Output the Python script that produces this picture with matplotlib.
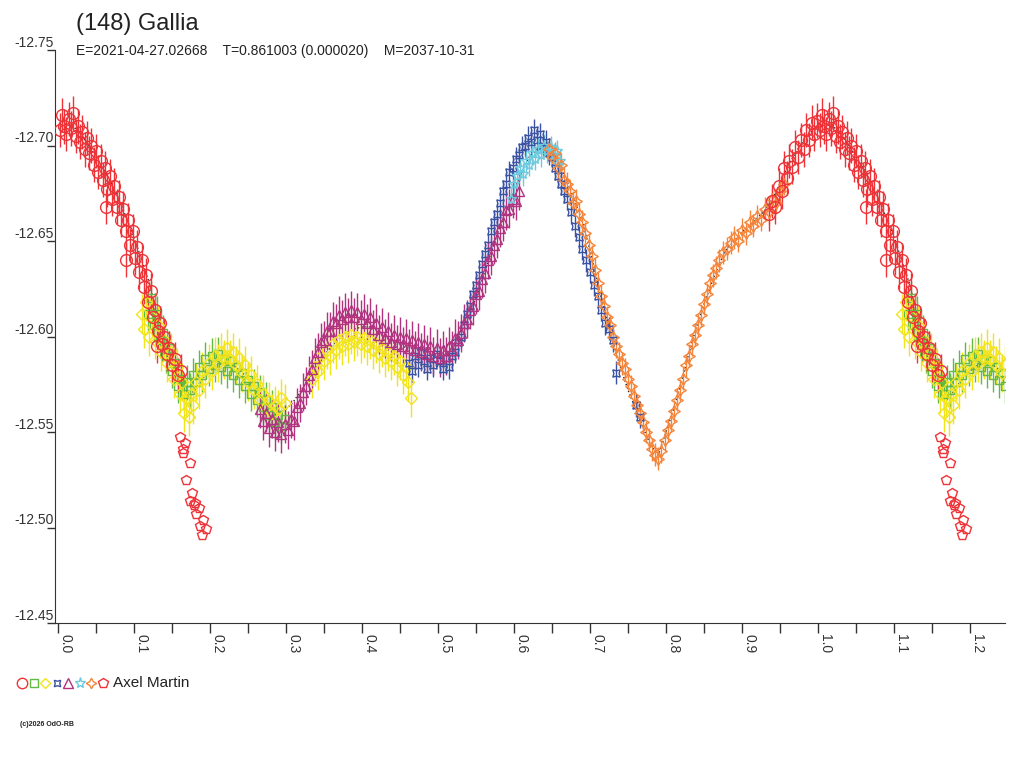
import numpy as np
import matplotlib
matplotlib.use("Agg")
import matplotlib.pyplot as plt
from matplotlib.lines import Line2D

plt.rcParams['font.family'] = ['Liberation Sans', 'DejaVu Sans']
plt.rcParams['axes.unicode_minus'] = False

# ---- datos (fase, magnitud) por sesion ----
# sesion 1 - circulos rojos
ph1 = [0.936, 0.940, 0.944, 0.948, 0.952, 0.955, 0.959, 0.962, 0.966, 0.970, 0.973, 0.977,
       0.981, 0.984, 0.988, 0.992, 0.995, 0.998, 0.002, 0.005, 0.008, 0.011, 0.014, 0.017,
       0.020, 0.023, 0.026, 0.029, 0.032, 0.035, 0.038, 0.041, 0.044, 0.047, 0.050, 0.053,
       0.056, 0.059, 0.062, 0.065, 0.068, 0.071, 0.074, 0.077, 0.080, 0.083, 0.086, 0.089,
       0.092, 0.095, 0.098, 0.101, 0.104, 0.107, 0.110, 0.113, 0.116, 0.119, 0.122, 0.125,
       0.128, 0.131, 0.134, 0.137, 0.140, 0.143, 0.146, 0.150, 0.154, 0.158, 0.162, 0.063,
       0.090, 0.130]
mag1 = [-12.664, -12.671, -12.668, -12.679, -12.676, -12.688, -12.683, -12.692, -12.689, -12.699,
        -12.694, -12.703, -12.698, -12.708, -12.703, -12.712, -12.706, -12.713, -12.708, -12.716,
        -12.710, -12.706, -12.714, -12.709, -12.717, -12.705, -12.710, -12.702, -12.707, -12.698,
        -12.704, -12.696, -12.700, -12.690, -12.697, -12.686, -12.692, -12.682, -12.688, -12.677,
        -12.684, -12.672, -12.679, -12.668, -12.673, -12.661, -12.667, -12.655, -12.661, -12.648,
        -12.655, -12.641, -12.647, -12.634, -12.640, -12.626, -12.632, -12.618, -12.624, -12.610,
        -12.614, -12.603, -12.607, -12.596, -12.600, -12.591, -12.594, -12.585, -12.588, -12.580,
        -12.582, -12.668, -12.640, -12.595]

# sesion 2 - cuadrados verdes
ph2 = [0.118, 0.122, 0.126, 0.130, 0.134, 0.138, 0.142, 0.146, 0.150, 0.154, 0.158, 0.162,
       0.166, 0.170, 0.174, 0.178, 0.182, 0.186, 0.190, 0.194, 0.198, 0.202, 0.206, 0.210,
       0.214, 0.218, 0.222, 0.226, 0.230, 0.234, 0.238, 0.242, 0.246, 0.250, 0.254, 0.258,
       0.262, 0.266, 0.270, 0.274, 0.278, 0.282, 0.286, 0.290, 0.294, 0.298]
mag2 = [-12.612, -12.620, -12.606, -12.612, -12.598, -12.602, -12.590, -12.594, -12.582, -12.586,
        -12.574, -12.578, -12.570, -12.576, -12.572, -12.580, -12.576, -12.584, -12.580, -12.588,
        -12.583, -12.590, -12.585, -12.591, -12.584, -12.588, -12.582, -12.587, -12.580, -12.584,
        -12.577, -12.581, -12.574, -12.577, -12.570, -12.574, -12.567, -12.571, -12.563, -12.567,
        -12.559, -12.563, -12.555, -12.559, -12.553, -12.557]

# sesion 3 - rombos amarillos
ph3 = [0.110, 0.113, 0.116, 0.120, 0.124, 0.128, 0.132, 0.136, 0.140, 0.144, 0.148, 0.152,
       0.156, 0.160, 0.163, 0.166, 0.169, 0.172, 0.175, 0.178, 0.182, 0.186, 0.190, 0.194,
       0.198, 0.202, 0.206, 0.210, 0.214, 0.218, 0.222, 0.226, 0.230, 0.234, 0.238, 0.242,
       0.246, 0.250, 0.254, 0.258, 0.262, 0.266, 0.270, 0.274, 0.278, 0.282, 0.286, 0.290,
       0.294, 0.298, 0.334, 0.338, 0.342, 0.346, 0.350, 0.354, 0.358, 0.362, 0.366, 0.370,
       0.374, 0.378, 0.382, 0.386, 0.390, 0.394, 0.398, 0.402, 0.406, 0.410, 0.414, 0.418,
       0.422, 0.426, 0.430, 0.434, 0.438, 0.442, 0.446, 0.450, 0.454, 0.458, 0.461, 0.464]
mag3 = [-12.612, -12.604, -12.618, -12.600, -12.610, -12.598, -12.606, -12.592, -12.598, -12.586,
        -12.592, -12.578, -12.584, -12.570, -12.576, -12.560, -12.568, -12.558, -12.570, -12.564,
        -12.576, -12.572, -12.582, -12.578, -12.586, -12.582, -12.590, -12.586, -12.592, -12.588,
        -12.594, -12.588, -12.592, -12.585, -12.589, -12.581, -12.585, -12.576, -12.580, -12.572,
        -12.575, -12.567, -12.570, -12.563, -12.566, -12.560, -12.564, -12.562, -12.568, -12.565,
        -12.578, -12.584, -12.582, -12.590, -12.587, -12.593, -12.590, -12.596, -12.593, -12.598,
        -12.595, -12.600, -12.596, -12.601, -12.597, -12.600, -12.596, -12.599, -12.595, -12.598,
        -12.593, -12.596, -12.591, -12.594, -12.589, -12.592, -12.587, -12.590, -12.584, -12.587,
        -12.580, -12.584, -12.576, -12.568]

# sesion 4 - azul
ph4 = [0.462, 0.466, 0.470, 0.474, 0.478, 0.482, 0.486, 0.490, 0.494, 0.498, 0.502, 0.506,
       0.510, 0.514, 0.518, 0.522, 0.526, 0.530, 0.534, 0.538, 0.542, 0.546, 0.550, 0.554,
       0.558, 0.562, 0.566, 0.570, 0.574, 0.578, 0.582, 0.586, 0.590, 0.594, 0.598, 0.602,
       0.606, 0.610, 0.614, 0.618, 0.622, 0.626, 0.630, 0.634, 0.638, 0.642, 0.646, 0.650,
       0.654, 0.658, 0.662, 0.666, 0.670, 0.675, 0.680, 0.685, 0.690, 0.695, 0.700, 0.705,
       0.710, 0.715, 0.720, 0.725, 0.730, 0.734, 0.760, 0.766]
mag4 = [-12.586, -12.582, -12.590, -12.585, -12.592, -12.587, -12.583, -12.589, -12.585, -12.591,
        -12.587, -12.583, -12.589, -12.584, -12.590, -12.592, -12.597, -12.600, -12.606, -12.612,
        -12.616, -12.622, -12.627, -12.632, -12.638, -12.643, -12.648, -12.655, -12.660, -12.664,
        -12.670, -12.676, -12.680, -12.686, -12.688, -12.693, -12.695, -12.699, -12.700, -12.704,
        -12.702, -12.708, -12.703, -12.706, -12.700, -12.702, -12.696, -12.694, -12.688, -12.684,
        -12.680, -12.676, -12.672, -12.665, -12.658, -12.652, -12.646, -12.640, -12.634, -12.627,
        -12.621, -12.614, -12.607, -12.604, -12.598, -12.581, -12.564, -12.558]

# sesion 5 - triangulos violeta
ph5 = [0.266, 0.270, 0.274, 0.278, 0.282, 0.286, 0.290, 0.294, 0.298, 0.302, 0.306, 0.310,
       0.314, 0.318, 0.322, 0.326, 0.330, 0.334, 0.338, 0.342, 0.346, 0.350, 0.354, 0.358,
       0.362, 0.366, 0.370, 0.374, 0.378, 0.382, 0.386, 0.390, 0.394, 0.398, 0.402, 0.406,
       0.410, 0.414, 0.418, 0.422, 0.426, 0.430, 0.434, 0.438, 0.442, 0.446, 0.450, 0.454,
       0.458, 0.462, 0.466, 0.470, 0.474, 0.478, 0.482, 0.486, 0.490, 0.494, 0.498, 0.502,
       0.506, 0.510, 0.514, 0.518, 0.522, 0.526, 0.530, 0.534, 0.538, 0.542, 0.546, 0.550,
       0.554, 0.558, 0.562, 0.566, 0.570, 0.574, 0.578, 0.582, 0.586, 0.590, 0.594, 0.598,
       0.602, 0.606]
mag5 = [-12.562, -12.556, -12.560, -12.552, -12.557, -12.550, -12.555, -12.549, -12.554, -12.551,
        -12.557, -12.556, -12.563, -12.565, -12.571, -12.574, -12.580, -12.583, -12.589, -12.592,
        -12.597, -12.598, -12.603, -12.603, -12.608, -12.607, -12.611, -12.609, -12.613, -12.610,
        -12.614, -12.610, -12.613, -12.609, -12.612, -12.607, -12.610, -12.604, -12.607, -12.601,
        -12.605, -12.599, -12.603, -12.597, -12.601, -12.596, -12.600, -12.595, -12.599, -12.594,
        -12.598, -12.593, -12.597, -12.592, -12.596, -12.591, -12.595, -12.590, -12.594, -12.589,
        -12.593, -12.590, -12.595, -12.593, -12.599, -12.598, -12.602, -12.607, -12.609, -12.614,
        -12.616, -12.622, -12.624, -12.630, -12.633, -12.640, -12.642, -12.648, -12.651, -12.657,
        -12.660, -12.666, -12.667, -12.672, -12.671, -12.676]

# sesion 6 - estrellas celestes
ph6 = [0.596, 0.600, 0.604, 0.608, 0.612, 0.616, 0.620, 0.624, 0.628, 0.632, 0.636, 0.640,
       0.644, 0.648, 0.652, 0.656, 0.660]
mag6 = [-12.672, -12.680, -12.684, -12.688, -12.685, -12.692, -12.690, -12.696, -12.693, -12.698,
        -12.695, -12.700, -12.697, -12.699, -12.695, -12.697, -12.692]

# sesion 7 - estrellas naranjas
ph7 = [0.646, 0.650, 0.654, 0.658, 0.662, 0.666, 0.670, 0.674, 0.678, 0.682, 0.686, 0.690,
       0.694, 0.698, 0.702, 0.706, 0.710, 0.714, 0.718, 0.722, 0.726, 0.730, 0.734, 0.738,
       0.742, 0.746, 0.750, 0.754, 0.758, 0.762, 0.766, 0.770, 0.774, 0.778, 0.782, 0.786,
       0.790, 0.794, 0.798, 0.802, 0.806, 0.810, 0.814, 0.818, 0.822, 0.826, 0.830, 0.834,
       0.838, 0.842, 0.846, 0.850, 0.854, 0.858, 0.862, 0.866, 0.870, 0.875, 0.880, 0.885,
       0.890, 0.895, 0.900, 0.905, 0.910, 0.915, 0.920, 0.925, 0.930, 0.935, 0.940, 0.945,
       0.950, 0.955]
mag7 = [-12.698, -12.694, -12.696, -12.688, -12.690, -12.682, -12.680, -12.676, -12.670, -12.671,
        -12.664, -12.660, -12.654, -12.648, -12.642, -12.635, -12.628, -12.621, -12.616, -12.610,
        -12.606, -12.600, -12.595, -12.591, -12.586, -12.583, -12.578, -12.574, -12.569, -12.564,
        -12.560, -12.555, -12.550, -12.546, -12.541, -12.538, -12.536, -12.540, -12.546, -12.551,
        -12.556, -12.561, -12.567, -12.572, -12.578, -12.585, -12.590, -12.596, -12.601, -12.606,
        -12.611, -12.617, -12.622, -12.628, -12.632, -12.636, -12.640, -12.644, -12.646, -12.649,
        -12.652, -12.650, -12.656, -12.654, -12.660, -12.658, -12.663, -12.661, -12.667, -12.665,
        -12.672, -12.670, -12.676, -12.680]

# sesion 8 - pentagonos rojos
ph8 = [0.161, 0.167, 0.165, 0.164, 0.174, 0.169, 0.176, 0.173, 0.180, 0.179, 0.185, 0.182,
       0.191, 0.187, 0.195, 0.190]
mag8 = [-12.5475, -12.544, -12.541, -12.539, -12.534, -12.525, -12.518, -12.514, -12.513, -12.512,
        -12.510, -12.507, -12.504, -12.501, -12.499, -12.496]

# curva de ajuste (puntos negros)
ph_fit = [0.00, 0.01, 0.02, 0.03, 0.04, 0.05, 0.06, 0.07, 0.08, 0.09, 0.10, 0.11, 0.12, 0.13,
          0.14, 0.15, 0.16, 0.17, 0.18, 0.19, 0.20, 0.21, 0.22, 0.23, 0.24, 0.25, 0.26, 0.27,
          0.28, 0.29, 0.30, 0.31, 0.32, 0.33, 0.34, 0.35, 0.36, 0.37, 0.38, 0.39, 0.40, 0.41,
          0.42, 0.43, 0.44, 0.45, 0.46, 0.47, 0.48, 0.49, 0.50, 0.51, 0.52, 0.53, 0.54, 0.55,
          0.56, 0.57, 0.58, 0.59, 0.60, 0.61, 0.62, 0.63, 0.64, 0.65, 0.66, 0.67, 0.68, 0.69,
          0.70, 0.71, 0.72, 0.73, 0.74, 0.75, 0.76, 0.77, 0.78, 0.79, 0.80, 0.81, 0.82, 0.83,
          0.84, 0.85, 0.86, 0.87, 0.88, 0.89, 0.90, 0.91, 0.92, 0.93, 0.94, 0.95, 0.96, 0.97,
          0.98, 0.99]
mag_fit = [-12.709, -12.711, -12.710, -12.706, -12.700, -12.694, -12.688, -12.680, -12.672, -12.662,
           -12.652, -12.640, -12.628, -12.612, -12.598, -12.586, -12.576, -12.568, -12.572, -12.578,
           -12.582, -12.585, -12.586, -12.585, -12.582, -12.578, -12.572, -12.566, -12.562, -12.560,
           -12.562, -12.566, -12.572, -12.578, -12.584, -12.590, -12.595, -12.599, -12.602, -12.604,
           -12.605, -12.605, -12.603, -12.600, -12.597, -12.595, -12.594, -12.594, -12.594, -12.594,
           -12.594, -12.595, -12.598, -12.603, -12.610, -12.620, -12.632, -12.644, -12.656, -12.666,
           -12.676, -12.686, -12.694, -12.698, -12.699, -12.696, -12.690, -12.681, -12.671, -12.660,
           -12.645, -12.628, -12.612, -12.597, -12.584, -12.572, -12.562, -12.552, -12.543, -12.538,
           -12.550, -12.562, -12.576, -12.591, -12.605, -12.617, -12.628, -12.638, -12.646, -12.650,
           -12.655, -12.658, -12.662, -12.666, -12.672, -12.680, -12.689, -12.696, -12.702, -12.707]

y_ticks = [-12.75, -12.70, -12.65, -12.60, -12.55, -12.50, -12.45]
x_ticks = [0.0, 0.1, 0.2, 0.3, 0.4, 0.5, 0.6, 0.7, 0.8, 0.9, 1.0, 1.1, 1.2]
x_minor = [0.05, 0.15, 0.25, 0.35, 0.45, 0.55, 0.65, 0.75, 0.85, 0.95, 1.05, 1.15]

# estilo de cada sesion: (fase, mag, marcador, color, tamaño, error)
sesiones = [
    (ph2, mag2, 's', '#62b946', 6.0, 0.009),
    (ph3, mag3, 'D', '#f2e41c', 6.0, 0.010),
    (ph4, mag4, (4, 1, 45), '#3a52a3', 7.5, 0.006),
    (ph5, mag5, '^', '#b1327f', 7.0, 0.010),
    (ph6, mag6, '*', '#6ccadf', 8.0, 0.006),
    (ph7, mag7, (4, 1, 0), '#f5853a', 8.5, 0.006),
    (ph1, mag1, 'o', '#ee3338', 8.5, 0.009),
    (ph8, mag8, 'p', '#ee3338', 7.5, 0.0),
]


def repetir(ph, mag):
    # la fase se repite despues de 1.0 hasta 1.25
    ph = np.array(ph)
    mag = np.array(mag)
    sel = ph < 0.25
    return np.concatenate([ph, ph[sel] + 1]), np.concatenate([mag, mag[sel]])


fig = plt.figure(figsize=(10.24, 7.68), dpi=100)
ax = fig.add_axes([55 / 1024, 1 - 623 / 768, 950 / 1024, 573 / 768])

# curva de ajuste
xf, yf = repetir(ph_fit, mag_fit)
orden = np.argsort(xf)
ax.plot(xf[orden], yf[orden], ':', color='#222222', lw=1.0, zorder=1)

for ph, mag, mk, col, ms, err in sesiones:
    x, y = repetir(ph, mag)
    if err > 0:
        ax.errorbar(x, y, yerr=err, fmt='none', ecolor=col, elinewidth=1, capsize=0, zorder=2)
    ax.plot(x, y, linestyle='none', marker=mk, ms=ms, mfc='none', mec=col, mew=1, zorder=3)

ax.set_xlim(-0.004, 1.246)
ax.set_ylim(-12.45, -12.75)

ax.spines['top'].set_visible(False)
ax.spines['right'].set_visible(False)
ax.spines['left'].set_color('#333333')
ax.spines['bottom'].set_color('#333333')

ax.set_yticks(y_ticks)
ax.set_yticklabels(['%.2f' % v for v in y_ticks])
ax.tick_params(axis='y', length=6, width=1, pad=-5, labelsize=10, colors='#333333')
for lab in ax.get_yticklabels():
    lab.set_verticalalignment('bottom')

ax.set_xticks(x_ticks)
ax.set_xticklabels(['%.1f' % v for v in x_ticks], rotation=270)
ax.set_xticks(x_minor, minor=True)
ax.tick_params(axis='x', which='both', length=7, width=1, pad=1, labelsize=10, colors='#333333')
for lab in ax.get_xticklabels():
    lab.set_horizontalalignment('left')
    lab.set_verticalalignment('top')

# titulos
fig.text(76 / 1024, 1 - 30 / 768, '(148) Gallia', fontsize=17, color='#222222', va='baseline')
fig.text(76 / 1024, 1 - 55 / 768,
         'E=2021-04-27.02668    T=0.861003 (0.000020)    M=2037-10-31',
         fontsize=10, color='#222222', va='baseline')

# leyenda
leyenda = [('o', '#ee3338', 7.5), ('s', '#62b946', 6), ('D', '#f2e41c', 5.5),
           ((4, 1, 45), '#3a52a3', 6.5), ('^', '#b1327f', 6.5), ('*', '#6ccadf', 8),
           ((4, 1, 0), '#f5853a', 7.5), ('p', '#ee3338', 7.5)]
for i, (mk, col, ms) in enumerate(leyenda):
    xx = (22 + 11.5 * i) / 1024
    fig.add_artist(Line2D([xx], [1 - 683 / 768], marker=mk, ms=ms, mfc='none', mec=col,
                          mew=1, linestyle='none', transform=fig.transFigure))
fig.text(113 / 1024, 1 - 683 / 768, 'Axel Martin', fontsize=11, color='#222222', va='center')

fig.text(20 / 1024, 1 - 725 / 768, '(c)2026 OdO-RB', fontsize=5, color='#222222',
         va='center', fontweight='bold')

fig.savefig('out.png', dpi=100)
